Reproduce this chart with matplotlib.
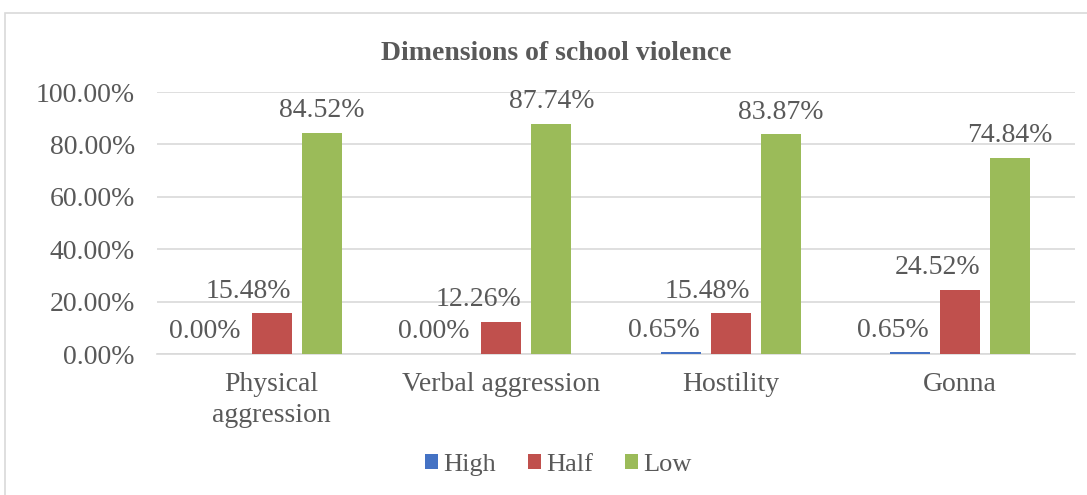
import matplotlib.pyplot as plt
import numpy as np
from matplotlib.patches import Rectangle

categories = ["Physical\naggression", "Verbal aggression", "Hostility", "Gonna"]
series_names = ["High", "Half", "Low"]
high = [0.00, 0.00, 0.65, 0.65]
half = [15.48, 12.26, 15.48, 24.52]
low = [84.52, 87.74, 83.87, 74.84]
y_ticks = [0, 20, 40, 60, 80, 100]

COLORS = ["#4472C4", "#C0504D", "#9BBB59"]
TEXT = "#595959"
GRID = "#D9D9D9"
FS = 20

plt.rcParams.update({
    "font.family": ["Liberation Serif", "DejaVu Serif"],
    "font.size": FS,
    "text.color": TEXT,
})

fig = plt.figure(figsize=(10.87, 4.95), dpi=100)
ax = fig.add_axes([157 / 1087, 1 - 354 / 495, (1075 - 157) / 1087, (354 - 92) / 495])

# outer chart frame
fig.patches.append(Rectangle((5 / 1087, -0.01), 1.0, 1 - 13 / 495 + 0.01,
                             transform=fig.transFigure, fill=False,
                             edgecolor=GRID, linewidth=1.2))

x = np.arange(len(categories))
width = 0.175
step = 0.218
label_shift = [-17, -23, 0]  # pixel nudges of the data labels

for i, (name, vals) in enumerate(zip(series_names, [high, half, low])):
    pos = x + (i - 1) * step
    ax.bar(pos, vals, width=width, color=COLORS[i], label=name, zorder=3)
    for px, v in zip(pos, vals):
        ax.annotate(f"{v:.2f}%", (px, v), xytext=(label_shift[i] * 0.72, 16),
                    textcoords="offset points", ha="center", va="center",
                    fontsize=FS, color=TEXT)

ax.set_xlim(-0.5, len(categories) - 0.5)
ax.set_ylim(0, 100)
ax.set_yticks(y_ticks)
ax.set_yticklabels([f"{t:.2f}%" for t in y_ticks])
ax.set_xticks(x)
ax.set_xticklabels(categories, linespacing=1.3)
ax.tick_params(axis="y", length=0, pad=16, labelsize=FS, labelcolor=TEXT)
ax.tick_params(axis="x", length=0, pad=13, labelsize=FS, labelcolor=TEXT)
ax.grid(axis="y", color=GRID, linewidth=1.2, zorder=0)
ax.set_axisbelow(True)
for s in ("top", "right", "left"):
    ax.spines[s].set_visible(False)
ax.spines["bottom"].set_color(GRID)
ax.spines["bottom"].set_linewidth(1.2)

fig.text(556 / 1087, 1 - 53 / 495, "Dimensions of school violence", ha="center",
         va="center", fontsize=20, fontweight="bold", color=TEXT)

fig.legend(loc="center", bbox_to_anchor=(558 / 1087, 1 - 465 / 495), ncol=3,
           frameon=False, fontsize=19, handlelength=0.5, handleheight=0.5,
           handletextpad=0.2, columnspacing=1.2, labelcolor=TEXT)

fig.savefig("out.png", dpi=100)
